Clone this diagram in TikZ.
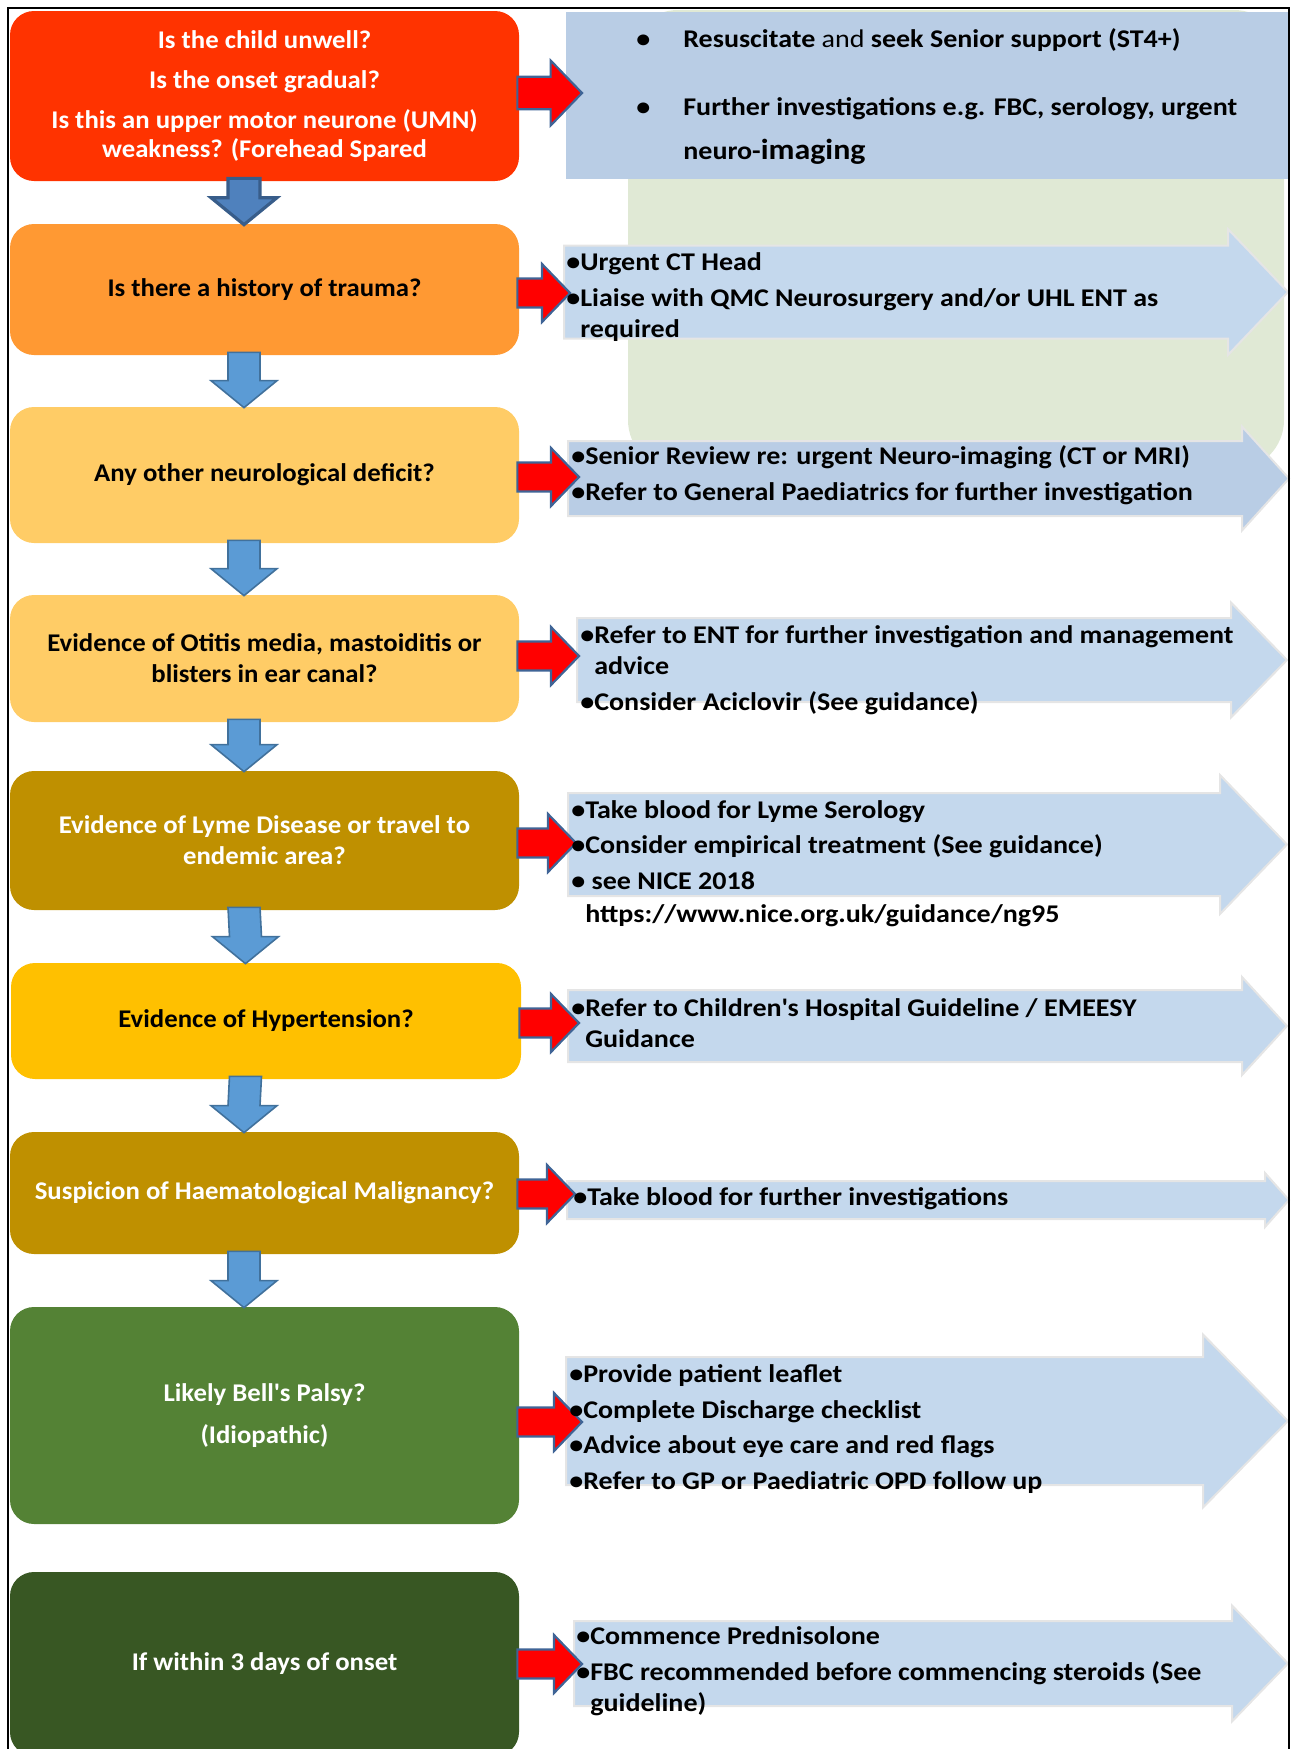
\documentclass[tikz,border=0pt]{standalone}
\usepackage{fontspec}
\setmainfont{Carlito}
\newfontfamily\qfont{Carlito}[FakeStretch=1.05]
\newfontfamily\afont{Carlito}[FakeStretch=1.1]
\usetikzlibrary{calc}

\definecolor{unwellred}{HTML}{FF3300}
\definecolor{traumaorange}{HTML}{FF9933}
\definecolor{paleorange}{HTML}{FFCC66}
\definecolor{darkgold}{HTML}{BF9000}
\definecolor{gold}{HTML}{FFC000}
\definecolor{bellsgreen}{HTML}{548235}
\definecolor{onsetgreen}{HTML}{385723}
\definecolor{actionblue}{HTML}{C4D8ED}
\definecolor{topblue}{HTML}{B9CDE5}
\definecolor{bggreen}{HTML}{E0E9D5}
\definecolor{downfill}{HTML}{5B9BD5}
\definecolor{downline}{HTML}{41719C}
\definecolor{firstfill}{HTML}{4F81BD}
\definecolor{firstline}{HTML}{385D8A}
\definecolor{edgeblue}{HTML}{3F6496}

\newlength\pxu
\setlength\pxu{0.02cm}
\newcommand{\boxfont}{\qfont\fontsize{14.5}{17.6}\selectfont\bfseries}
\newcommand{\actfont}{\afont\fontsize{14.5}{17.6}\selectfont\bfseries}

% block arrow behind the action texts: left, head base, tip, centre y, half shaft, half head
\newcommand{\actarrow}[7][actionblue]{%
  \fill[#1, draw=black!10, line width=2\pxu] (#2,{#5-#6}) -- (#3,{#5-#6}) -- (#3,{#5-#7})
    -- (#4,#5) -- (#3,{#5+#7}) -- (#3,{#5+#6}) -- (#2,{#5+#6}) -- cycle;}

% red arrow from a question box to the tip coordinate
\newcommand{\redarr}[3][1]{%
  \draw[redarrow] ($(#2.east |- #3)+(-2,{-14.5*#1})$) -- ($(#3)+({-28*#1},{-14.5*#1})$)
    -- ($(#3)+({-28*#1},{-29*#1})$) -- (#3) -- ($(#3)+({-28*#1},{29*#1})$)
    -- ($(#3)+({-28*#1},{14.5*#1})$) -- ($(#2.east |- #3)+(-2,{14.5*#1})$) -- cycle;}

% blue down arrow between two question boxes
\newcommand{\downarr}[3][downarrow]{%
  \coordinate (dtop) at ($(#2.south)+(-20.5,-3)$);
  \coordinate (dtip) at ($(#3.north)+(-20.5,1)$);
  \draw[#1] ($(dtop)+(-16,0)$) -- ($(dtop)+(16,0)$) -- ($(dtip)+(16,-27)$) -- ($(dtip)+(33,-27)$)
    -- (dtip) -- ($(dtip)+(-33,-27)$) -- ($(dtip)+(-16,-27)$) -- cycle;}

\begin{document}
\begin{tikzpicture}[x=1\pxu, y=-1\pxu,
  qbox/.style={rectangle, rounded corners=24\pxu, minimum width=509\pxu, inner sep=0pt, align=center, font=\boxfont},
  act/.style={anchor=west, inner sep=0pt, align=left, font=\actfont},
  redarrow/.style={fill=red, draw=edgeblue, line width=2.2\pxu},
  downarrow/.style={fill=downfill, draw=downline, line width=1.6\pxu},
  firstdown/.style={fill=firstfill, draw=firstline, line width=3.2\pxu}]
\useasboundingbox (0,0) rectangle (1293,1749);

\fill[bggreen, rounded corners=50\pxu] (628,10) rectangle (1284,470);
\fill[topblue] (566,12) rectangle (1289,179);

\actarrow{564}{1228}{1288}{292}{46.5}{63}
\actarrow[topblue]{568}{1242}{1289}{478.5}{37.5}{52}
\actarrow{577}{1231}{1287}{660}{42}{57.5}
\actarrow{568}{1220}{1287}{844.5}{51.5}{69.5}
\actarrow{568}{1242}{1287}{1026}{36}{49}
\actarrow{567}{1265}{1289}{1200}{19}{27}
\actarrow{566}{1203}{1288}{1421}{64}{86.5}
\actarrow{574}{1232}{1288}{1663.5}{42.5}{58}

\node[qbox, fill=unwellred, text=white, minimum height=170\pxu, font=\qfont\fontsize{14.5}{16.5}\selectfont\bfseries] (unwell) at (264.5,96)
  {Is the child unwell?\\[6.3pt]Is the onset gradual?\\[6.3pt]Is this an upper motor neurone (UMN)\\weakness? (Forehead Spared};
\node[qbox, fill=traumaorange, minimum height=131\pxu] (trauma) at (264.5,289.5) {Is there a history of trauma?};
\node[qbox, fill=paleorange, minimum height=136\pxu] (deficit) at (264.5,475) {Any other neurological deficit?};
\node[qbox, fill=paleorange, minimum height=127\pxu] (otitis) at (264.5,658.5)
  {Evidence of Otitis media, mastoiditis or\\blisters in ear canal?};
\node[qbox, fill=darkgold, text=white, minimum height=139\pxu] (lyme) at (264.5,840.5)
  {Evidence of Lyme Disease or travel to\\endemic area?};
\node[qbox, fill=gold, minimum height=116\pxu, minimum width=510\pxu] (hypert) at (266,1021) {Evidence of Hypertension?};
\node[qbox, fill=darkgold, text=white, minimum height=122\pxu] (haem) at (264.5,1193) {Suspicion of Haematological Malignancy?};
\node[qbox, fill=bellsgreen, text=white, minimum height=217\pxu] (bells) at (264.5,1415.5)
  {Likely Bell\textquotesingle s Palsy?\\[6.4pt](Idiopathic)};
\node[qbox, fill=onsetgreen, text=white, minimum height=184\pxu] (onset) at (264.5,1664) {If within 3 days of onset};

\downarr[firstdown]{unwell}{trauma}
\downarr{trauma}{deficit}
\downarr{deficit}{otitis}
\downarr{otitis}{lyme}
\downarr{lyme}{hypert}
\downarr{hypert}{haem}
\downarr{haem}{bells}

\coordinate (resusTip) at (582,93);
\coordinate (ctTip) at (570,293);
\coordinate (neuroTip) at (579,477);
\coordinate (entTip) at (579,656);
\coordinate (lymeTip) at (576,843);
\coordinate (hyperTip) at (579,1023);
\coordinate (bloodTip) at (575,1194);
\coordinate (leafletTip) at (582,1422);
\coordinate (predTip) at (582,1664);

\redarr[1.12]{unwell}{resusTip}
\redarr{trauma}{ctTip}
\redarr{deficit}{neuroTip}
\redarr{otitis}{entTip}
\redarr{lyme}{lymeTip}
\redarr{hypert}{hyperTip}
\redarr{haem}{bloodTip}
\redarr{bells}{leafletTip}
\redarr{onset}{predTip}

\node[act, font=\afont\fontsize{14.5}{25}\selectfont\bfseries] (resus) at (636,96.5)
  {\makebox[47\pxu][l]{•}Resuscitate {\mdseries and} seek Senior support (ST4+)\\[14pt]
   \makebox[47\pxu][l]{•}Further investigations e.g. FBC, serology, urgent\\
   \hspace*{47\pxu}neuro-{\fontsize{16.5}{25}\selectfont imaging}};
\node[act] (ctHead) at (566,297)
  {•Urgent CT Head\\[2.8pt]•Liaise with QMC Neurosurgery and/or UHL ENT as\\\phantom{•}required};
\node[act] (neuroImg) at (571,475)
  {•Senior Review re: urgent Neuro-imaging (CT or MRI)\\[2.8pt]•Refer to General Paediatrics for further investigation};
\node[act] (ent) at (580,670)
  {•Refer to ENT for further investigation and management\\\phantom{•}advice\\[2.8pt]•Consider Aciclovir (See guidance)};
\node[act] (serology) at (571,863.5)
  {•Take blood for Lyme Serology\\[2.8pt]•Consider empirical treatment (See guidance)\\[2.8pt]• see NICE 2018\\[1pt]\phantom{•}https://www.nice.org.uk/guidance/ng95};
\node[act] (guideline) at (571,1023)
  {•Refer to Children\textquotesingle s Hospital Guideline / EMEESY\\\phantom{•}Guidance};
\node[act] (bloods) at (573,1198.5) {•Take blood for further investigations};
\node[act] (leaflet) at (569,1429)
  {•Provide patient leaflet\\[2.8pt]•Complete Discharge checklist\\[2.8pt]•Advice about eye care and red flags\\[2.8pt]•Refer to GP or Paediatric OPD follow up};
\node[act] (pred) at (576,1671.5)
  {•Commence Prednisolone\\[2.8pt]•FBC recommended before commencing steroids (See\\\phantom{•}guideline)};

\draw[line width=2.5\pxu] (8,1749) -- (8,8) -- (1289,8) -- (1289,1749);
\end{tikzpicture}
\end{document}
